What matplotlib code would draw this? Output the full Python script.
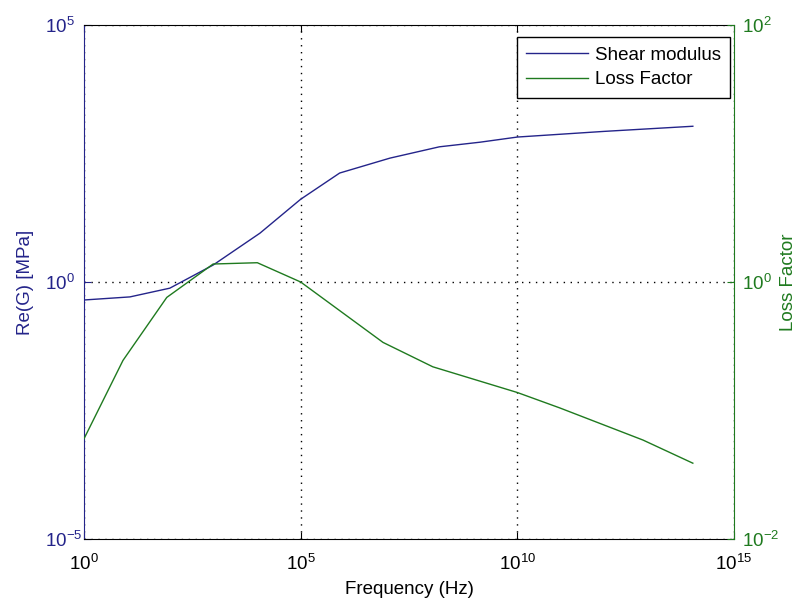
import matplotlib
matplotlib.use("Agg")
import matplotlib.pyplot as plt
import numpy as np
from matplotlib.ticker import FixedLocator, NullLocator, FixedFormatter

plt.rcParams['font.family'] = ['Liberation Sans', 'DejaVu Sans']
plt.rcParams['mathtext.fontset'] = 'custom'
plt.rcParams['mathtext.rm'] = 'Liberation Sans'
plt.rcParams['mathtext.it'] = 'Liberation Sans'
plt.rcParams['mathtext.default'] = 'regular'

# Shear modulus (log10 frequency, log10 Re(G) MPa)
shear_logf = [0.0, 1.06, 1.98, 2.98, 4.06, 5.0, 5.9, 7.06, 8.2, 9.14, 10.0, 12.0, 14.05]
shear_logG = [-0.35, -0.29, -0.12, 0.33, 0.95, 1.61, 2.12, 2.41, 2.63, 2.72, 2.82, 2.93, 3.03]

# Loss factor (log10 frequency, log10 loss factor)
loss_logf = [0.0, 0.9, 1.91, 2.98, 4.0, 5.0, 6.9, 8.05, 10.0, 10.98, 12.9, 14.05]
loss_logLF = [-1.22, -0.61, -0.12, 0.14, 0.15, 0.0, -0.47, -0.66, -0.86, -0.98, -1.23, -1.41]

blue = '#24248a'
green = '#1f7a1f'

fig = plt.figure(figsize=(7.96, 6.03), dpi=100)
ax = fig.add_axes([84/796, 1-539/603, (734-84)/796, (539-25)/603])
ax2 = ax.twinx()

f1 = 10**np.array(shear_logf)
g1 = 10**np.array(shear_logG)
f2 = 10**np.array(loss_logf)
g2 = 10**np.array(loss_logLF)

l1, = ax.plot(f1, g1, color=blue, lw=1.0, label='Shear modulus')
l2, = ax2.plot(f2, g2, color=green, lw=1.0, label='Loss Factor')

for a in (ax, ax2):
    a.set_xscale('log')
    a.set_yscale('log')
    a.set_xlim(1, 1e15)

ax.set_ylim(1e-5, 1e5)
ax2.set_ylim(1e-2, 1e2)

xt = [1, 1e5, 1e10, 1e15]
ax.xaxis.set_major_locator(FixedLocator(xt))
ax.xaxis.set_major_formatter(FixedFormatter([r'$10^{0}$', r'$10^{5}$', r'$10^{10}$', r'$10^{15}$']))
ax.xaxis.set_minor_locator(NullLocator())
ax.yaxis.set_major_locator(FixedLocator([1e-5, 1, 1e5]))
ax.yaxis.set_major_formatter(FixedFormatter([r'$10^{-5}$', r'$10^{0}$', r'$10^{5}$']))
ax.yaxis.set_minor_locator(NullLocator())
ax2.yaxis.set_major_locator(FixedLocator([1e-2, 1, 1e2]))
ax2.yaxis.set_major_formatter(FixedFormatter([r'$10^{-2}$', r'$10^{0}$', r'$10^{2}$']))
ax2.yaxis.set_minor_locator(NullLocator())

fs = 13.5
ax.tick_params(axis='x', direction='in', top=True, length=5, labelsize=fs, colors='black', pad=11)
ax.tick_params(axis='y', direction='in', length=5, labelsize=fs, colors=blue, pad=28)
ax2.tick_params(axis='y', direction='in', length=5, labelsize=fs, colors=green, pad=6)
for t in ax.get_yticklabels():
    t.set_horizontalalignment('left')

ax.grid(True, which='major', linestyle=(0, (1, 4)), color='black', lw=1.0)

ax.spines['left'].set_color(blue)
ax2.spines['left'].set_visible(False)
ax.spines['right'].set_visible(False)
ax2.spines['right'].set_color(green)
ax.spines['top'].set_color('black')
ax2.spines['top'].set_visible(False)
ax2.spines['bottom'].set_visible(False)

ax.set_xlabel('Frequency (Hz)', fontsize=fs, color='black', labelpad=5)
ax.set_ylabel('Re(G) [MPa]', fontsize=fs, color=blue, labelpad=8)
ax2.set_ylabel('Loss Factor', fontsize=fs, color=green)
ax2.yaxis.set_label_coords((780-84)/650, 0.5)

leg = ax2.legend(handles=[l1, l2], loc='upper right', fontsize=fs, frameon=True,
                 fancybox=False, edgecolor='black', framealpha=1,
                 bbox_to_anchor=((730-84)/650, (539-37)/514),
                 borderaxespad=0, handlelength=3.3, handletextpad=0.35,
                 borderpad=0.5, labelspacing=0.4)
leg.get_frame().set_linewidth(1.0)

fig.savefig('out.png', dpi=100)
